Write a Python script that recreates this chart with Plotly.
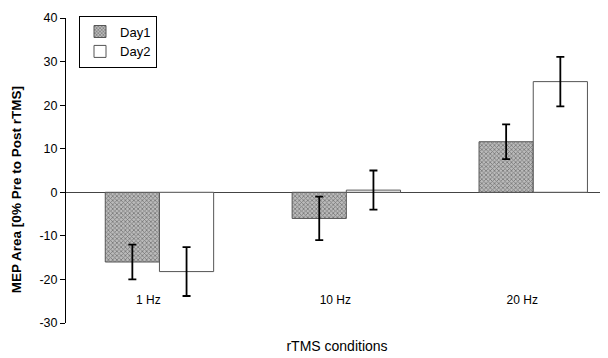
import plotly.graph_objects as go

categories = ["1 Hz", "10 Hz", "20 Hz"]
day1_values = [-16.0, -6.0, 11.6]
day1_errors = [4.0, 5.0, 4.0]
day2_values = [-18.2, 0.5, 25.4]
day2_errors = [5.6, 4.5, 5.7]
y_ticks = [-30, -20, -10, 0, 10, 20, 30, 40]
y_tick_labels = ["-30", "-20", "-10", "0", "10", "20", "30", "40"]
y_title = "MEP Area [0% Pre to Post rTMS]"
x_title = "rTMS conditions"

font_family = "Liberation Sans, Arial, sans-serif"

fig = go.Figure()
fig.add_trace(go.Bar(
    name="Day1", x=categories, y=day1_values,
    marker=dict(color="white", line=dict(color="#555", width=1),
                pattern=dict(shape="x", size=3, solidity=0.45, fgcolor="#333", bgcolor="#bbb")),
    error_y=dict(type="data", array=day1_errors, color="black", thickness=1.8, width=4),
))
fig.add_trace(go.Bar(
    name="Day2", x=categories, y=day2_values,
    marker=dict(color="white", line=dict(color="#555", width=1)),
    error_y=dict(type="data", array=day2_errors, color="black", thickness=1.8, width=4),
))

# page body has ~8px default margin, so the figure is shrunk by 8px
fig.update_layout(
    width=600, height=350,
    margin=dict(l=58, r=0, t=10, b=35, autoexpand=False),
    paper_bgcolor="white", plot_bgcolor="white",
    barmode="group", bargap=0.42, bargroupgap=0,
    font=dict(family=font_family, color="black", size=12),
    showlegend=True,
    legend=dict(x=0.024, y=1.008, xanchor="left", yanchor="top",
                bordercolor="black", borderwidth=1, bgcolor="white",
                font=dict(size=13), tracegroupgap=0, itemwidth=30),
    xaxis=dict(range=[-0.5, 2.4], showline=False, ticks="", showgrid=False,
               anchor="free", position=0.105, automargin=False,
               ticklabelshift=-11,
               title=dict(text=x_title, font=dict(size=14), standoff=35),
               tickfont=dict(size=12)),
    yaxis=dict(range=[-30, 40], tickvals=y_ticks, ticktext=y_tick_labels,
               showgrid=False,
               showline=True, linecolor="black", linewidth=1,
               ticks="outside", ticklen=5, tickcolor="black",
               zeroline=True, zerolinecolor="#444", zerolinewidth=1,
               tickfont=dict(size=12.5), automargin=False),
    annotations=[dict(text="<b>" + y_title + "</b>", textangle=-90,
                      xref="paper", yref="paper", x=-0.092, y=0.436,
                      xanchor="center", yanchor="middle", showarrow=False,
                      font=dict(size=13.5))],
)

fig.write_html("out.html")
